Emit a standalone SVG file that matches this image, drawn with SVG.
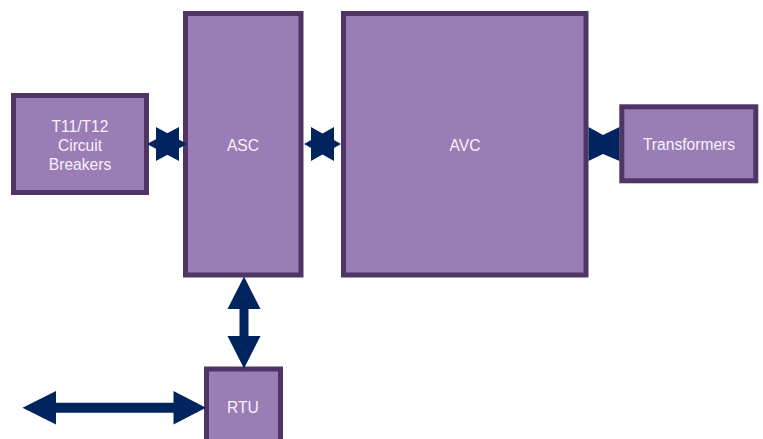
<svg xmlns="http://www.w3.org/2000/svg" width="763" height="439" viewBox="0 0 763 439">
<style>
.box{fill:#9b7db6;stroke:#4f3566;stroke-width:5}
.lbl{font-family:"Liberation Sans",Arial,sans-serif;font-size:15.6px;fill:#f6f2fa;text-anchor:middle;dominant-baseline:central}
.conn{fill:#00245e;stroke:none}
</style>
<rect width="763" height="439" fill="#ffffff"/>
<g id="node-t11">
<rect class="box" x="13.5" y="95.5" width="133" height="97"/>
<text class="lbl" x="80" y="126">T11/T12</text>
<text class="lbl" x="80" y="145">Circuit</text>
<text class="lbl" x="80" y="164">Breakers</text>
</g>
<g id="node-asc">
<rect class="box" x="185.5" y="13.5" width="115.5" height="261.5"/>
<text class="lbl" x="243" y="145">ASC</text>
</g>
<g id="node-avc">
<rect class="box" x="343.5" y="13.5" width="242.5" height="261.5"/>
<text class="lbl" x="465" y="145">AVC</text>
</g>
<g id="node-transformers">
<rect class="box" x="621.8" y="106.8" width="134" height="74"/>
<text class="lbl" x="689" y="144">Transformers</text>
</g>
<g id="node-rtu">
<rect class="box" x="206.5" y="369" width="74" height="80"/>
<text class="lbl" x="243" y="407">RTU</text>
</g>
<g id="connectors">
<polygon class="conn" points="147,144 179,127 179,161"/>
<polygon class="conn" points="187,144 156,127 156,161"/>
<polygon class="conn" points="304,144 334,127 334,161"/>
<polygon class="conn" points="341,144 311,127 311,161"/>
<polygon class="conn" points="588.5,127 603,135 619.5,127 619.5,161 603,154 588.5,161"/>
<polygon class="conn" points="244,276.5 260.5,309 248.5,309 248.5,336 260.5,336 244,368.5 227.5,336 239.5,336 239.5,309 227.5,309"/>
<polygon class="conn" points="22.5,407.8 56,391 56,402.8 173.5,402.8 173.5,391 206,407.8 173.5,424.5 173.5,412.8 56,412.8 56,424.5"/>
</g>
</svg>
